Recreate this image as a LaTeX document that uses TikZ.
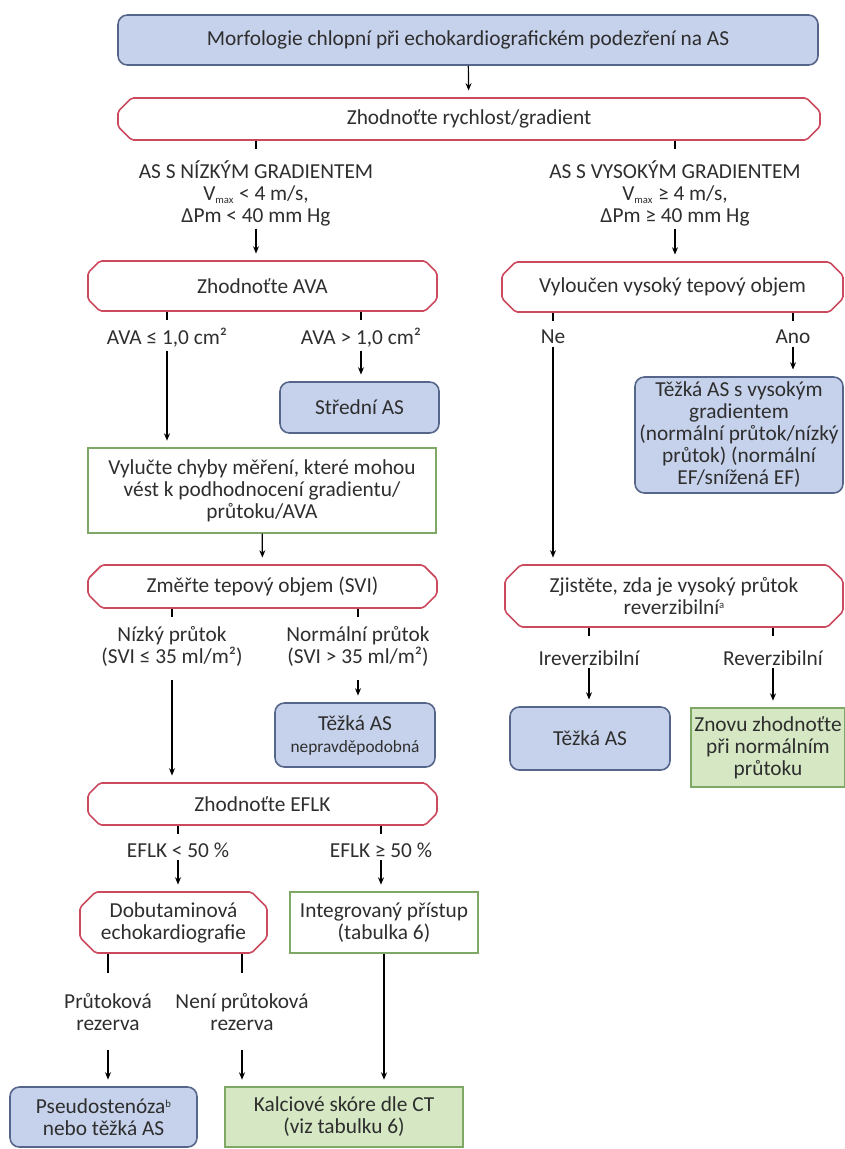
\documentclass[tikz,border=0pt]{standalone}
\usepackage{fontspec}
\setmainfont{Carlito}
\usetikzlibrary{shapes.misc,arrows.meta}
\definecolor{bluefill}{HTML}{C6D2EB}
\definecolor{blueline}{HTML}{56668A}
\definecolor{redline}{HTML}{CC4A5E}
\definecolor{greenline}{HTML}{7FA866}
\definecolor{greenfill}{HTML}{D5E8C3}
\definecolor{txt}{HTML}{2E2E2E}
\newcommand\vmax{V\textsubscript{\fontsize{8}{8}\selectfont max}}
\newcommand\fnmark[1]{\raisebox{4.5pt}{\fontsize{8}{8}\selectfont #1}}
\tikzset{
  every node/.style={text=txt, font=\fontsize{16}{16.5}\selectfont, inner sep=0pt, align=center},
  sz/.style 2 args={minimum width=#1*0.75pt, minimum height=#2*0.75pt},
  result/.style={draw=blueline, fill=bluefill, line width=1.2pt, rounded corners=7pt},
  ask/.style={chamfered rectangle, chamfered rectangle xsep=8.5pt, draw=redline, line width=1.2pt, rounded corners=1.5pt},
  todo/.style={draw=greenline, line width=1pt},
  done/.style={draw=greenline, fill=greenfill, line width=1pt},
  lbl/.style={inner sep=2pt},
  stub/.style={draw=black, line width=0.9pt},
  arr/.style={stub, -{Stealth[length=5.5pt,width=4.5pt]}, shorten >=5pt},
}

\begin{document}
\begin{tikzpicture}[x=0.75pt, y=-0.75pt]
\useasboundingbox (0,0) rectangle (845,1149);

\node[result, sz={700}{50}] (top) at (468,40) {Morfologie chlopní při echokardiografickém podezření na AS};
\node[ask, sz={702}{42}] (rych) at (469,119) {Zhodnoťte rychlost/gradient};
\draw[arr] (top) -- (rych);

\node[lbl] (low) at (256,193) {AS S NÍZKÝM GRADIENTEM\\\vmax{} < 4 m/s,\\ΔPm < 40 mm Hg};
\node[lbl] (high) at (675,193) {AS S VYSOKÝM GRADIENTEM\\\vmax{} ≥ 4 m/s,\\ΔPm ≥ 40 mm Hg};
\draw[stub] (rych.south -| low) -- ++(0,8);
\draw[stub] (rych.south -| high) -- ++(0,8);

% nizky gradient
\node[ask, sz={349}{50}] (ava) at (262.5,286) {Zhodnoťte AVA};
\draw[arr] (low.south) -- (ava.north -| low);
\node[lbl] (avale) at (167,338) {AVA ≤ 1,0 cm²};
\node[lbl] (avagt) at (361,338) {AVA > 1,0 cm²};
\draw[stub] (ava.south -| avale) -- ++(0,8);
\draw[stub] (ava.south -| avagt) -- ++(0,8);
\node[result, sz={159}{51}] (mid) at (359.5,407.5) {Střední AS};
\node[todo, sz={348}{85}] (err) at (262,490.5) {Vylučte chyby měření, které mohou\\vést k podhodnocení gradientu/\\průtoku/AVA};
\draw[arr] (avale.south) -- (err.north -| avale);
\draw[arr] (avagt.south) -- (mid.north -| avagt);

\node[ask, sz={349}{43}] (svi) at (262.5,586.5) {Změřte tepový objem (SVI)};
\draw[arr] (err) -- (svi);
\node[lbl] (lowf) at (172,646) {Nízký průtok\\(SVI ≤ 35 ml/m²)};
\node[lbl] (normf) at (358,646) {Normální průtok\\(SVI > 35 ml/m²)};
\draw[stub] (svi.south -| lowf) -- ++(0,8);
\draw[stub] (svi.south -| normf) -- ++(0,8);
\node[result, sz={160}{64}] (unl) at (355,735) {Těžká AS\\{\fontsize{13}{16}\selectfont nepravděpodobná}};
\node[ask, sz={349}{42}] (eflk) at (262.5,804) {Zhodnoťte EFLK};
\draw[arr, shorten <=8pt] (lowf.south) -- (eflk.north -| lowf);
\draw[arr, shorten <=8pt] (normf.south) -- (unl.north -| normf);

\node[lbl] (efl) at (178,850) {EFLK < 50 \%};
\node[lbl] (efh) at (381,850) {EFLK ≥ 50 \%};
\draw[stub] (eflk.south -| efl) -- ++(0,8);
\draw[stub] (eflk.south -| efh) -- ++(0,8);
\node[ask, sz={187}{61}] (dobu) at (173.5,922.5) {Dobutaminová\\echokardiografie};
\node[todo, sz={188}{61}] (integ) at (384,922.5) {Integrovaný přístup\\(tabulka 6)};
\draw[arr] (efl.south) -- (dobu.north -| efl);
\draw[arr] (efh.south) -- (integ.north -| efh);

\node[lbl] (prr) at (108,1012) {Průtoková\\rezerva};
\node[lbl] (noprr) at (242,1012) {Není průtoková\\rezerva};
\draw[stub] (dobu.south -| prr) -- ++(0,19);
\draw[stub] (dobu.south -| noprr) -- ++(0,19);
\node[result, sz={187}{60}] (pseudo) at (103.5,1117) {Pseudostenóza\fnmark{b}\\nebo těžká AS};
\node[done, sz={238}{60}] (calc) at (344,1117) {Kalciové skóre dle CT\\(viz tabulku 6)};
\draw[arr, shorten <=12pt] (prr.south) -- (pseudo.north -| prr);
\draw[arr, shorten <=12pt] (noprr.south) -- (calc.north -| noprr);
\draw[arr] (integ) -- (calc.north -| integ);

% vysoky gradient
\node[ask, sz={341}{50}] (vyl) at (672.5,287) {Vyloučen vysoký tepový objem};
\draw[arr] (high.south) -- (vyl.north -| high);
\node[lbl] (ne) at (553,337) {Ne};
\node[lbl] (ano) at (793,337) {Ano};
\draw[stub] (vyl.south -| ne) -- ++(0,8);
\draw[stub] (vyl.south -| ano) -- ++(0,8);
\node[result, sz={208}{116}] (heavy) at (739,435) {Těžká AS s vysokým\\gradientem\\(normální průtok/nízký\\průtok) (normální\\EF/snížená EF)};
\node[ask, sz={338}{62}] (zji) at (674,596) {Zjistěte, zda je vysoký průtok\\reverzibilní\fnmark{a}};
\draw[arr] (ne.south) -- (zji.north -| ne);
\draw[arr] (ano.south) -- (heavy.north -| ano);

\node[lbl] (irev) at (589,658) {Ireverzibilní};
\node[lbl] (rev) at (773,658) {Reverzibilní};
\draw[stub] (zji.south -| irev) -- ++(0,8);
\draw[stub] (zji.south -| rev) -- ++(0,8);
\node[result, sz={160}{63}] (sev) at (590,738.5) {Těžká AS};
\node[done, sz={154}{79}] (again) at (768,747.5) {Znovu zhodnoťte\\při normálním\\průtoku};
\draw[arr] (irev.south) -- (sev.north -| irev);
\draw[arr] (rev.south) -- (again.north -| rev);
\end{tikzpicture}
\end{document}
